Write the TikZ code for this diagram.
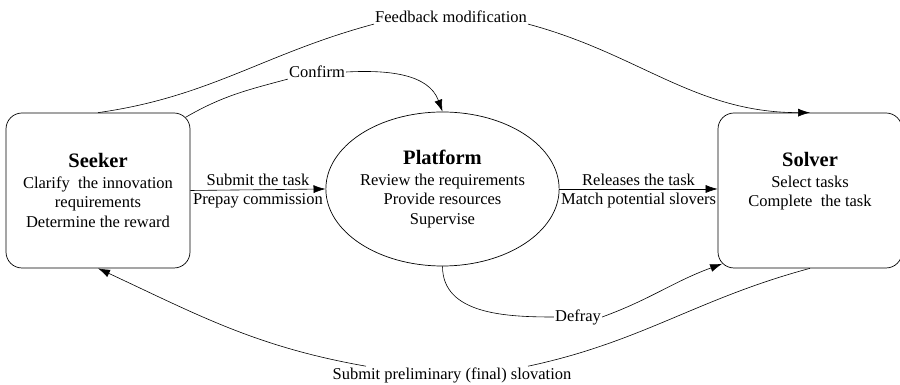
\documentclass[tikz,border=0pt]{standalone}
\usepackage{fontspec}
\setmainfont{Liberation Serif}
\usetikzlibrary{shapes.geometric,arrows.meta}

\tikzset{
  actor/.style={draw, line width=0.7pt, rounded corners=16pt, minimum width=184pt, minimum height=155pt, align=center},
  hub/.style={draw, line width=0.7pt, ellipse, minimum width=211pt, minimum height=154pt, inner sep=0pt, align=center},
  flow/.style={line width=0.6pt, -{Latex[length=12pt,width=8pt]}},
  link/.style={line width=0.6pt},
  lbl/.style={inner sep=1pt},
  elbl/.style={inner sep=3.5pt}
}

\begin{document}
\begin{tikzpicture}[x=1pt, y=1pt, font=\fontsize{16.5}{19.5}\selectfont]
        \useasboundingbox (0,0) rectangle (900,385);

        \node[actor] (seeker)   at (98,194.5)  {{\fontsize{20.5}{22}\selectfont\bfseries Seeker}\\[1pt]Clarify\ \ the innovation\\requirements\\Determine the reward};
        \node[hub]   (platform) at (442.5,196) {{\fontsize{20.5}{22}\selectfont\bfseries Platform}\\[1pt]Review the requirements\\Provide resources\\Supervise};
        \node[actor] (solver)   at (810,194.5) {};
        \node[align=center] (solvertext) at ([yshift=9pt]solver.center) {{\fontsize{20.5}{22}\selectfont\bfseries Solver}\\[1pt]Select tasks\\Complete\ \ the task};

        \node[lbl] (feedback) at (451,368) {Feedback modification};
        \node[lbl] (confirm)  at (317,313) {Confirm};
        \node[lbl] (defray)   at (578,68)  {Defray};
        \node[lbl] (submit)   at (452,10)  {Submit preliminary (final) slovation};

        \draw[flow] (seeker.east) -- (platform.west)
              node[midway, above, elbl] {Submit the task}
              node[midway, below, elbl] {Prepay commission};
        \draw[flow] (platform.east) -- (solver.west |- platform.east)
              node[midway, above, elbl] {Releases the task}
              node[midway, below, elbl] {Match potential slovers};

        \draw[link] (seeker.north) to[out=8, in=195] (feedback.south west);
        \draw[flow] (feedback.south east) to[out=-15, in=180] (solver.north);

        \draw[link] ([shift={(-4.5pt,-4.5pt)}]seeker.north east) to[out=30, in=195] (confirm.south west);
        \draw[flow] (confirm.east) to[out=3, in=110] (platform.north);

        \draw[link] (platform.south) to[out=-90, in=180] (defray.west);
        \draw[flow] (defray.east) to[out=20, in=200] ([shift={(4.5pt,4.5pt)}]solver.south west);

        \draw[link] (solver.south) to[out=195, in=12] ([xshift=76pt]submit.north);
        \draw[flow] ([xshift=-86pt]submit.north) to[out=170, in=-25] (seeker.south);
\end{tikzpicture}
\end{document}
